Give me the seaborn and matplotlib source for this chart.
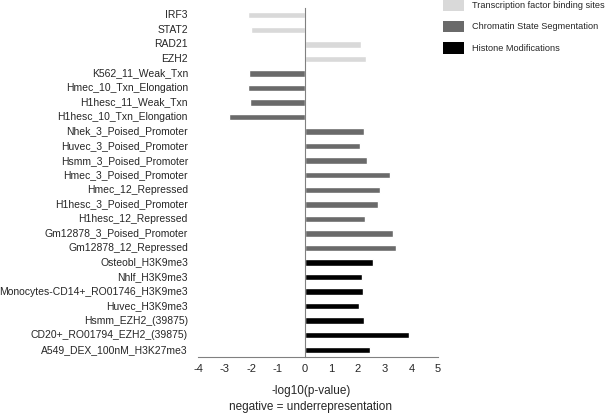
import pandas as pd
import matplotlib.pyplot as plt
import matplotlib.transforms as mtransforms
from matplotlib.patches import Patch
import seaborn as sns

labels = ["IRF3", "STAT2", "RAD21", "EZH2",
          "K562_11_Weak_Txn", "Hmec_10_Txn_Elongation", "H1hesc_11_Weak_Txn",
          "H1hesc_10_Txn_Elongation", "Nhek_3_Poised_Promoter", "Huvec_3_Poised_Promoter",
          "Hsmm_3_Poised_Promoter", "Hmec_3_Poised_Promoter", "Hmec_12_Repressed",
          "H1hesc_3_Poised_Promoter", "H1hesc_12_Repressed", "Gm12878_3_Poised_Promoter",
          "Gm12878_12_Repressed", "Osteobl_H3K9me3", "Nhlf_H3K9me3",
          "Monocytes-CD14+_RO01746_H3K9me3", "Huvec_H3K9me3", "Hsmm_EZH2_(39875)",
          "CD20+_RO01794_EZH2_(39875)", "A549_DEX_100nM_H3K27me3"]

values = [-2.12, -2.0, 2.13, 2.30,
          -2.10, -2.11, -2.06, -2.82,
          2.21, 2.09, 2.34, 3.21, 2.84, 2.76, 2.28, 3.33, 3.43,
          2.55, 2.15, 2.20, 2.04, 2.23, 3.90, 2.44]

groups = (["Transcription factor binding sites"] * 4
          + ["Chromatin State Segmentation"] * 13
          + ["Histone Modifications"] * 7)

group_colors = {"Transcription factor binding sites": "#d9d9d9",
                "Chromatin State Segmentation": "#6a6a6a",
                "Histone Modifications": "#000000"}

xticks = [-4, -3, -2, -1, 0, 1, 2, 3, 4, 5]

df = pd.DataFrame({"label": labels, "value": values, "group": groups})

sns.set_style("white")
plt.rcParams["font.family"] = ["Liberation Sans", "DejaVu Sans"]

fig = plt.figure(figsize=(6.06, 4.13), dpi=100)
ax = fig.add_axes([198 / 606, 1 - 357 / 413, 240 / 606, 349 / 413])

sns.barplot(data=df, x="value", y="label", hue="group", palette=group_colors,
            dodge=False, width=0.44, legend=False, ax=ax, orient="h")

n = len(labels)
ax.set_xlim(-4, 5)
ax.set_ylim(n - 0.5, -0.5)
ax.set_xticks(xticks)
ax.set_xticklabels([str(t) for t in xticks], fontsize=8)
ax.tick_params(axis="x", direction="out", length=3, color="#808080", pad=2)

# y axis sits at zero, boundary ticks only
for s in ["top", "right"]:
    ax.spines[s].set_visible(False)
ax.spines["left"].set_position(("data", 0))
ax.spines["left"].set_color("#808080")
ax.spines["bottom"].set_color("#808080")
ax.set_yticks(range(n))
ax.set_yticklabels([])
ax.tick_params(axis="y", which="major", length=0)
ax.set_yticks([i - 0.5 for i in range(n + 1)], minor=True)
ax.tick_params(axis="y", which="minor", direction="out", length=3, color="#808080")

trans = mtransforms.blended_transform_factory(ax.transAxes, ax.transData)
for i, lab in enumerate(labels):
    ax.text(-0.042, i, lab, transform=trans, ha="right", va="center", fontsize=7.5)

ax.set_ylabel("")
ax.set_xlabel("-log10(p-value)\nnegative = underrepresentation", fontsize=8.5,
              linespacing=1.5)
ax.xaxis.set_label_coords(0.47, -0.08, transform=ax.transAxes)
ax.xaxis.label.set_va("top")

handles = [Patch(facecolor=c, edgecolor="none") for c in group_colors.values()]
fig.legend(handles, list(group_colors.keys()), loc="upper left",
           bbox_to_anchor=(443 / 606, 1.002), frameon=False, fontsize=6.6,
           handlelength=2.3, handleheight=1.55, labelspacing=1.1,
           handletextpad=0.9, borderpad=0, borderaxespad=0)

fig.savefig("out.png", dpi=100)
